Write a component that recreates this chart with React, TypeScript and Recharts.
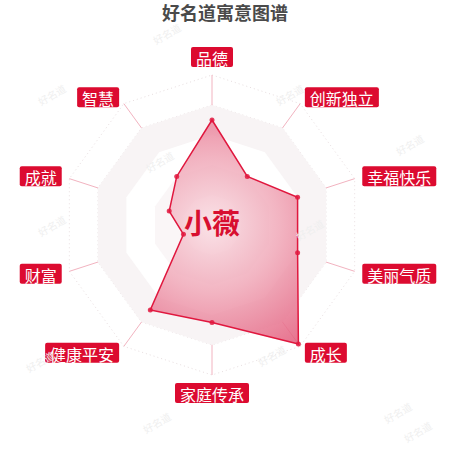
import { RadarChart, Radar, PolarGrid, PolarAngleAxis, PolarRadiusAxis } from "recharts";

const categories = ["品德", "创新独立", "幸福快乐", "美丽气质", "成长", "家庭传承", "健康平安", "财富", "成就", "智慧"];
const scores = [70, 40, 60, 60, 98, 65, 70, 20, 30, 40];
// background rings, drawn as filled polygons (outer first)
const bandLevels = [80, 60, 40, 20];
const bandFills = ["#f8f4f5", "#ffffff", "#faf6f7", "#ffffff"];

const title = "好名道寓意图谱";
const personName = "小薇";

// faint watermark spots
const marks: [number, number][] = [
  [167, 34], [290, 95], [410, 145], [52, 95], [160, 162], [52, 226],
  [310, 230], [40, 362], [272, 356], [157, 423], [398, 413], [418, 432],
];

const CX = 212;
const CY = 225;
const LABEL_R = 158;

const data = categories.map((name, i) => {
  const row: Record<string, string | number> = { name, score: scores[i] };
  bandLevels.forEach((lv, k) => {
    row[`band${k}`] = lv;
  });
  return row;
});

const AxisLabel = (props: any) => {
  const { payload } = props;
  const angle = payload.coordinate;
  const rad = (angle * Math.PI) / 180;
  const cos = Math.cos(rad);
  const sin = Math.sin(rad);
  const ax = CX + LABEL_R * cos;
  const ay = CY - LABEL_R * sin;
  const text = String(payload.value);
  const w = text.length * 16 + 10;
  const h = 20;
  let rx, ry;
  if (Math.abs(cos) < 0.01) {
    rx = ax - w / 2;
    ry = sin > 0 ? ay - h : ay;
  } else if (cos > 0) {
    rx = ax;
    ry = ay - h / 2;
  } else {
    rx = ax - w;
    ry = ay - h / 2;
  }
  return (
    <g>
      <rect x={rx} y={ry} width={w} height={h} rx={2} fill="#dc0b30" />
      <text
        x={rx + w / 2}
        y={ry + h / 2 + 1}
        textAnchor="middle"
        dominantBaseline="central"
        fill="#ffffff"
        fontSize={16}
        fontFamily="'Noto Sans CJK SC', sans-serif"
      >
        {text}
      </text>
    </g>
  );
};

export default function App() {
  return (
    <div style={{ position: "absolute", left: 0, top: 0, width: 450, height: 450, background: "#fff" }}>
      <svg width={0} height={0} style={{ position: "absolute" }}>
        <defs>
          <radialGradient id="areaFill" gradientUnits="userSpaceOnUse" cx={CX} cy={CY} r={150}>
            <stop offset="0%" stopColor="#f9dde3" />
            <stop offset="45%" stopColor="#f0a7b7" />
            <stop offset="100%" stopColor="#e25677" />
          </radialGradient>
        </defs>
      </svg>
      <RadarChart width={450} height={450} data={data} cx={CX} cy={CY} outerRadius={150} margin={{ top: 0, right: 0, bottom: 0, left: 0 }}>
        {bandLevels.map((_, k) => (
          <Radar
            key={k}
            dataKey={`band${k}`}
            stroke="none"
            fill={bandFills[k]}
            fillOpacity={1}
            isAnimationActive={false}
          />
        ))}
        <PolarGrid gridType="polygon" polarRadius={[30, 60, 90, 120, 150]} radialLines={false} stroke="#e8dee0" strokeDasharray="1 3" />
        <PolarGrid gridType="polygon" polarRadius={[0]} stroke="#f2b3c0" />
        <PolarRadiusAxis domain={[0, 100]} tick={false} axisLine={false} />
        <PolarAngleAxis dataKey="name" tick={AxisLabel} tickLine={false} axisLine={false} />
        <Radar
          dataKey="score"
          stroke="#e0173e"
          strokeWidth={1.5}
          fill="url(#areaFill)"
          fillOpacity={0.85}
          dot={{ r: 2.5, fill: "#e0173e", stroke: "none" }}
          isAnimationActive={false}
        />
      </RadarChart>
      <div
        style={{
          position: "absolute",
          left: 0,
          top: 1,
          width: 450,
          textAlign: "center",
          fontFamily: "'Noto Sans CJK SC', sans-serif",
          fontWeight: 700,
          fontSize: 18,
          lineHeight: "22px",
          color: "#4a4a4a",
        }}
      >
        {title}
      </div>
      <div
        style={{
          position: "absolute",
          left: CX - 60,
          top: 204,
          width: 120,
          textAlign: "center",
          fontFamily: "'Noto Sans CJK SC', sans-serif",
          fontWeight: 700,
          fontSize: 28,
          lineHeight: "36px",
          color: "#d80f30",
        }}
      >
        {personName}
      </div>
      {marks.map(([x, y], i) => (
        <div
          key={i}
          style={{
            position: "absolute",
            left: x - 20,
            top: y - 8,
            width: 40,
            textAlign: "center",
            fontFamily: "'Noto Sans CJK SC', sans-serif",
            fontSize: 10,
            lineHeight: "16px",
            color: "#efefef",
            transform: "rotate(-30deg)",
          }}
        >
          好名道
        </div>
      ))}
    </div>
  );
}
